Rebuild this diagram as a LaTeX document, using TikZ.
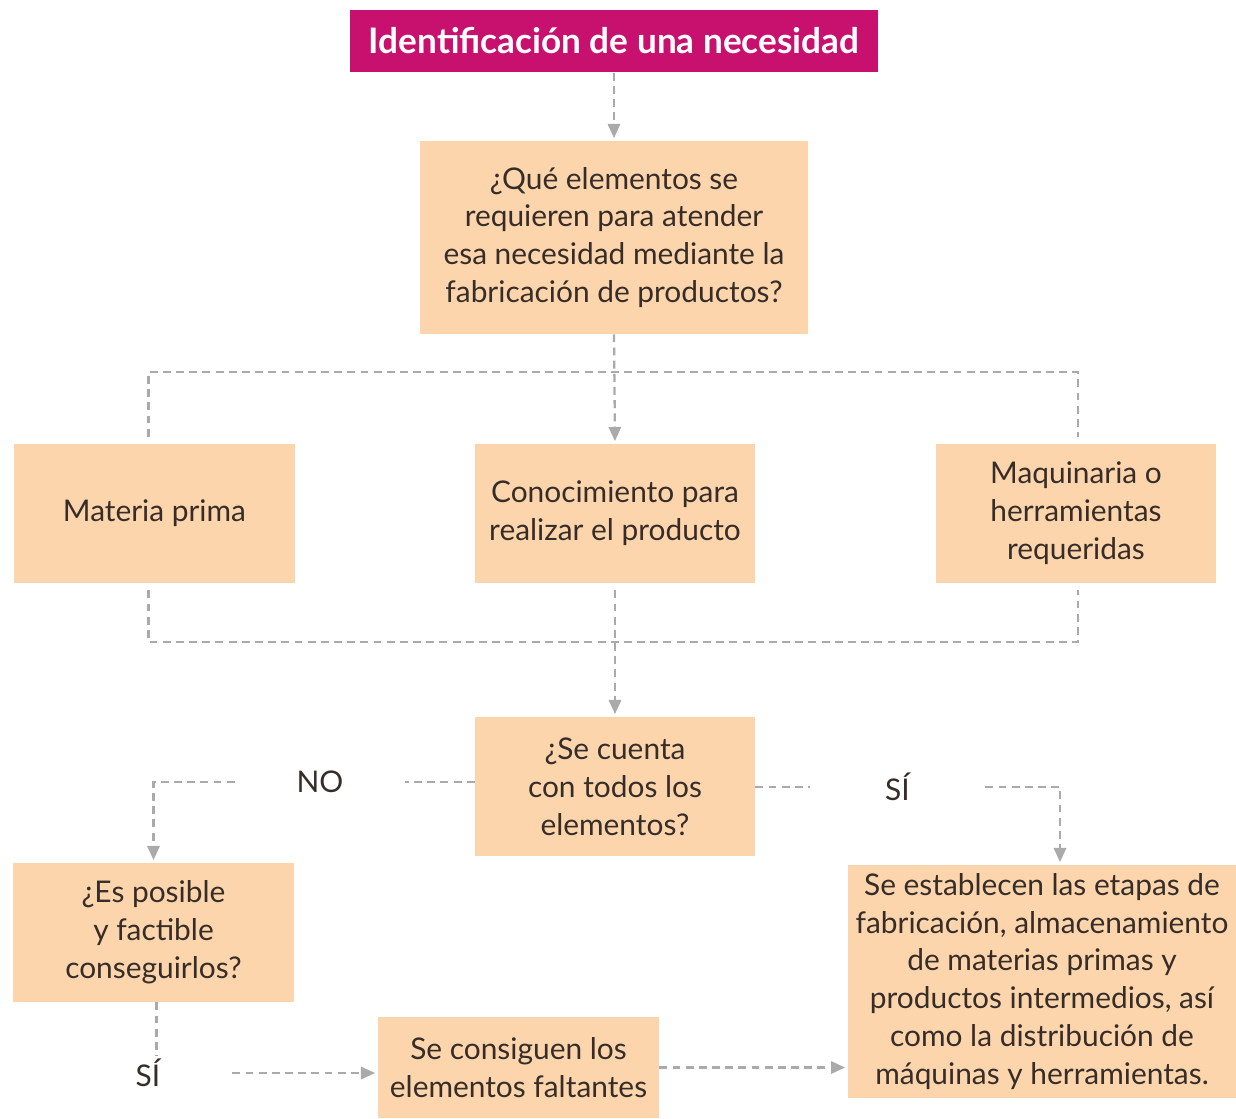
\documentclass[tikz,border=0pt]{standalone}
\usepackage{fontspec}
\setmainfont{Lato}
\usetikzlibrary{arrows.meta,positioning}
\definecolor{titlecol}{RGB}{200,16,110}
\definecolor{boxcol}{RGB}{252,213,172}
\definecolor{linecol}{RGB}{170,170,170}
\definecolor{txtcol}{RGB}{55,45,40}
\tikzset{
  box/.style={fill=boxcol,text=txtcol,align=center,inner sep=0pt,
    font=\fontsize{17}{21.6}\selectfont},
  lbl/.style={text=txtcol,inner ysep=2pt,font=\fontsize{17}{21.6}\selectfont},
  flow/.style={linecol,line width=1.3pt,dash pattern=on 4.5pt off 3pt},
  arr/.style={flow,-{Triangle[length=8pt,width=7pt]},shorten >=1.5pt}
}

\begin{document}
\begin{tikzpicture}[x=0.02cm,y=-0.02cm]
\useasboundingbox (0,0) rectangle (1236,1118);
% boxes
\node[fill=titlecol,text=white,inner sep=0pt,minimum width=10.56cm,minimum height=1.26cm,
  font=\fontsize{20}{22}\selectfont\bfseries] (title) at (614,41) {Identificación de una necesidad};
\node[box,minimum width=7.76cm,minimum height=3.86cm] (quest) at (614,237.5)
  {¿Qué elementos se\\ requieren para atender\\ esa necesidad mediante la\\ fabricación de productos?};
\node[box,minimum width=5.62cm,minimum height=2.78cm] (mat) at (154.5,513.5) {Materia prima};
\node[box,minimum width=5.6cm,minimum height=2.78cm] (con) at (615,513.5) {Conocimiento para\\ realizar el producto};
\node[box,minimum width=5.6cm,minimum height=2.78cm] (maq) at (1076,513.5) {Maquinaria o\\ herramientas\\ requeridas};
\node[box,minimum width=5.6cm,minimum height=2.78cm] (cuenta) at (615,786.5) {¿Se cuenta\\ con todos los\\ elementos?};
\node[box,minimum width=5.62cm,minimum height=2.78cm] (posible) at (153.5,932.5) {¿Es posible\\ y factible\\ conseguirlos?};
\node[box,minimum width=7.76cm,minimum height=4.66cm] (etapas) at (1042,981.5)
  {Se establecen las etapas de\\ fabricación, almacenamiento\\ de materias primas y\\ productos intermedios, así\\ como la distribución de\\ máquinas y herramientas.};
\node[box,minimum width=5.62cm,minimum height=2.02cm] (falt) at (518.5,1067.5) {Se consiguen los\\ elementos faltantes};
% answer labels
\node[lbl,minimum width=3.4cm] (no) at (320,782) {NO};
\node[lbl,minimum width=3.5cm] (si) at (897.5,787) {SÍ};
\node[lbl,minimum width=3.36cm] (sib) at (148,1073) {SÍ};
% connectors
\coordinate (top) at (614,372);
\coordinate (bot) at (614,642);
\draw[arr] (title.south) -- (quest.north);
\draw[arr] (quest.south) -- (con.north);
\draw[flow,shorten <=4pt,shorten >=4pt] ([xshift=-0.12cm]mat.north) |- (top) -| ([xshift=0.04cm]maq.north);
\draw[flow,shorten <=4pt,shorten >=4pt] ([xshift=-0.12cm]mat.south) |- (bot) -| ([xshift=0.04cm]maq.south);
\draw[arr,shorten <=4pt] (con.south) -- (cuenta.north);
\draw[flow] (no.east -| cuenta.west) -- (no.east);
\draw[arr] (no.west) -| (posible.north);
\draw[flow] (si.west -| cuenta.east) -- (si.west);
\draw[arr] (si.east) -| ([xshift=0.36cm]etapas.north);
\draw[flow] ([xshift=0.06cm]posible.south) -- ([xshift=0.06cm]posible.south |- sib.north);
\draw[arr] (sib.east) -- (sib.east -| falt.west);
\draw[arr] (falt.east) -- (falt.east -| etapas.west);
\end{tikzpicture}
\end{document}
